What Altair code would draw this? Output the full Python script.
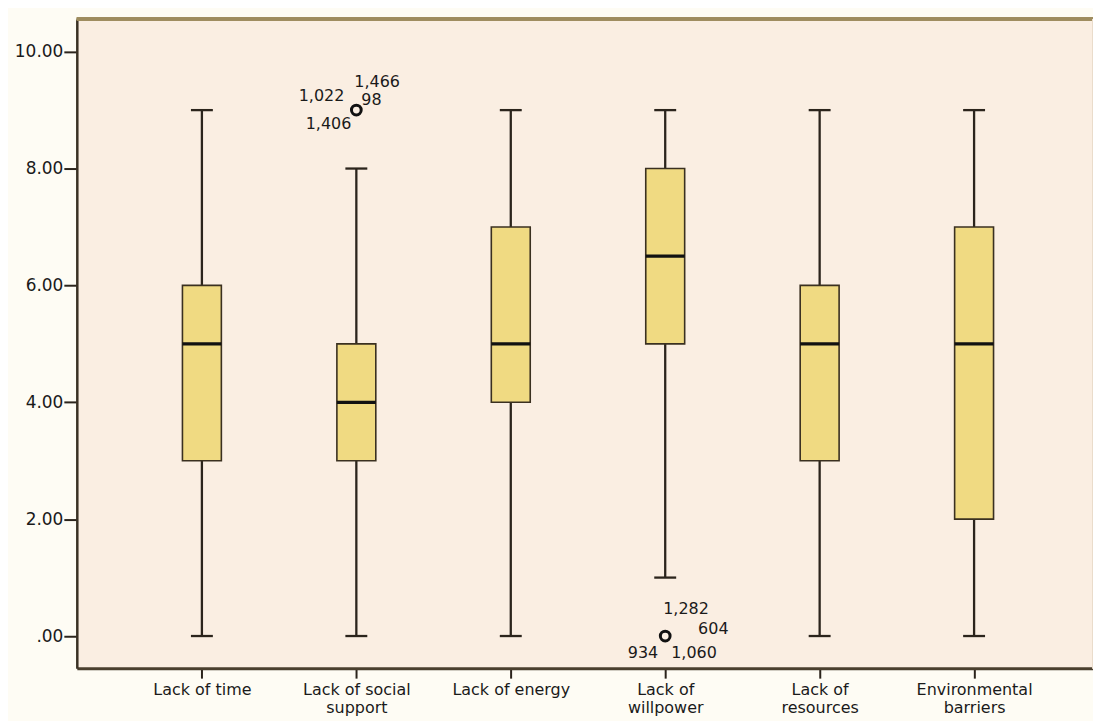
import json
import altair as alt
import pandas as pd

# ---- data ----
categories = ["Lack of time", "Lack of social support", "Lack of energy",
              "Lack of willpower", "Lack of resources", "Environmental barriers"]
label_lines = [["Lack of time"], ["Lack of social", "support"], ["Lack of energy"],
               ["Lack of", "willpower"], ["Lack of", "resources"], ["Environmental", "barriers"]]
mins = [0, 0, 0, 1, 0, 0]
q1s = [3, 3, 4, 5, 3, 2]
medians = [5, 4, 5, 6.5, 5, 5]
q3s = [6, 5, 7, 8, 6, 7]
maxs = [9, 8, 9, 9, 9, 9]

outlier_cat = [1, 3]
outlier_val = [9, 0]

# outlier case labels: (category index, value, text)
case_labels = [
    (1, 9, "1,466"), (1, 9, "1,022"), (1, 9, "98"), (1, 9, "1,406"),
    (3, 0, "1,282"), (3, 0, "604"), (3, 0, "934"), (3, 0, "1,060"),
]
# label placement (style): dx, dy, align
label_place = [
    (-2, -28, "left"), (-12, -14, "right"), (5, -10, "left"), (-5, 14, "right"),
    (-2, -27, "left"), (33, -7, "left"), (-7, 17, "right"), (6, 17, "left"),
]

df = pd.DataFrame({"i": list(range(len(categories))), "cat": categories,
                   "lo": mins, "q1": q1s, "med": medians, "q3": q3s, "hi": maxs})
out_df = pd.DataFrame({"i": outlier_cat, "v": outlier_val})

FONT = "DejaVu Sans"
DARK = "#2b241c"
TXT = "#1a1a1a"
W, H = 1019, 651

xscale = alt.Scale(domain=[-0.81, 5.77], nice=False, zero=False)
yscale = alt.Scale(domain=[-0.55, 10.56], nice=False, zero=False)

xaxis = alt.Axis(values=list(range(6)), title=None, grid=False,
                 labelExpr=json.dumps(label_lines) + "[datum.value]",
                 labelFont=FONT, labelFontSize=16, labelColor=TXT,
                 labelPadding=3, labelLineHeight=18, labelBaseline="top",
                 tickSize=10, tickColor=DARK, tickWidth=2,
                 domainColor="#4a3f2e", domainWidth=3, labelAngle=0)
yaxis = alt.Axis(values=[0, 2, 4, 6, 8, 10], title=None, grid=False,
                 labelExpr="datum.value == 0 ? '.00' : format(datum.value, '.2f')",
                 labelFont=FONT, labelFontSize=17, labelColor=TXT,
                 labelPadding=1, tickSize=13, tickColor=DARK, tickWidth=2,
                 domainColor="#3a3124", domainWidth=2.5)

base = alt.Chart(df).transform_calculate(
    xl="datum.i - 0.126", xr="datum.i + 0.126",
    cl="datum.i - 0.071", cr="datum.i + 0.071")

x_main = alt.X("i:Q", scale=xscale, axis=xaxis)
y_main = alt.Y("lo:Q", scale=yscale, axis=yaxis)

LW = 2.3
whisk_lo = base.mark_rule(color=DARK, strokeWidth=LW).encode(
    x=x_main, y=y_main, y2="q1:Q")
whisk_hi = base.mark_rule(color=DARK, strokeWidth=LW).encode(
    x=alt.X("i:Q", scale=xscale), y=alt.Y("q3:Q", scale=yscale), y2="hi:Q")
cap_lo = base.mark_rule(color=DARK, strokeWidth=LW).encode(
    x=alt.X("cl:Q", scale=xscale), x2="cr:Q", y=alt.Y("lo:Q", scale=yscale))
cap_hi = base.mark_rule(color=DARK, strokeWidth=LW).encode(
    x=alt.X("cl:Q", scale=xscale), x2="cr:Q", y=alt.Y("hi:Q", scale=yscale))
box = base.mark_rect(fill="#f0da82", stroke="#3a3020", strokeWidth=1.6).encode(
    x=alt.X("xl:Q", scale=xscale), x2="xr:Q",
    y=alt.Y("q1:Q", scale=yscale), y2="q3:Q")
median = base.mark_rule(color="#111111", strokeWidth=3.2).encode(
    x=alt.X("xl:Q", scale=xscale), x2="xr:Q", y=alt.Y("med:Q", scale=yscale))

outliers = alt.Chart(out_df).mark_point(
    shape="circle", filled=False, size=95, strokeWidth=3, color="#111111", opacity=1).encode(
    x=alt.X("i:Q", scale=xscale), y=alt.Y("v:Q", scale=yscale))

texts = []
for (ci, v, t), (dx, dy, al) in zip(case_labels, label_place):
    tdf = pd.DataFrame({"i": [ci], "v": [v], "t": [t]})
    texts.append(alt.Chart(tdf).mark_text(
        font=FONT, fontSize=16, color=TXT, dx=dx, dy=dy,
        align=al, baseline="middle").encode(
        x=alt.X("i:Q", scale=xscale), y=alt.Y("v:Q", scale=yscale), text="t:N"))

top_border = alt.Chart(df).mark_rule(color="#9e8c5e", strokeWidth=3).encode(
    y=alt.value(0))
right_border = alt.Chart(df).mark_rule(color="#eadccb", strokeWidth=2).encode(
    x=alt.value(W))

chart = alt.layer(
    whisk_lo, whisk_hi, cap_lo, cap_hi, box, median, outliers, *texts,
    top_border, right_border
).properties(
    width=W, height=H,
    autosize=alt.AutoSizeParams(type="none"),
    padding={"left": 69, "top": 10, "right": 0, "bottom": 52},
    background="#fefcf4",
).configure_view(fill="#faeee2", stroke=None)

chart.save("out.html", embed_options={"renderer": "svg", "actions": False})
